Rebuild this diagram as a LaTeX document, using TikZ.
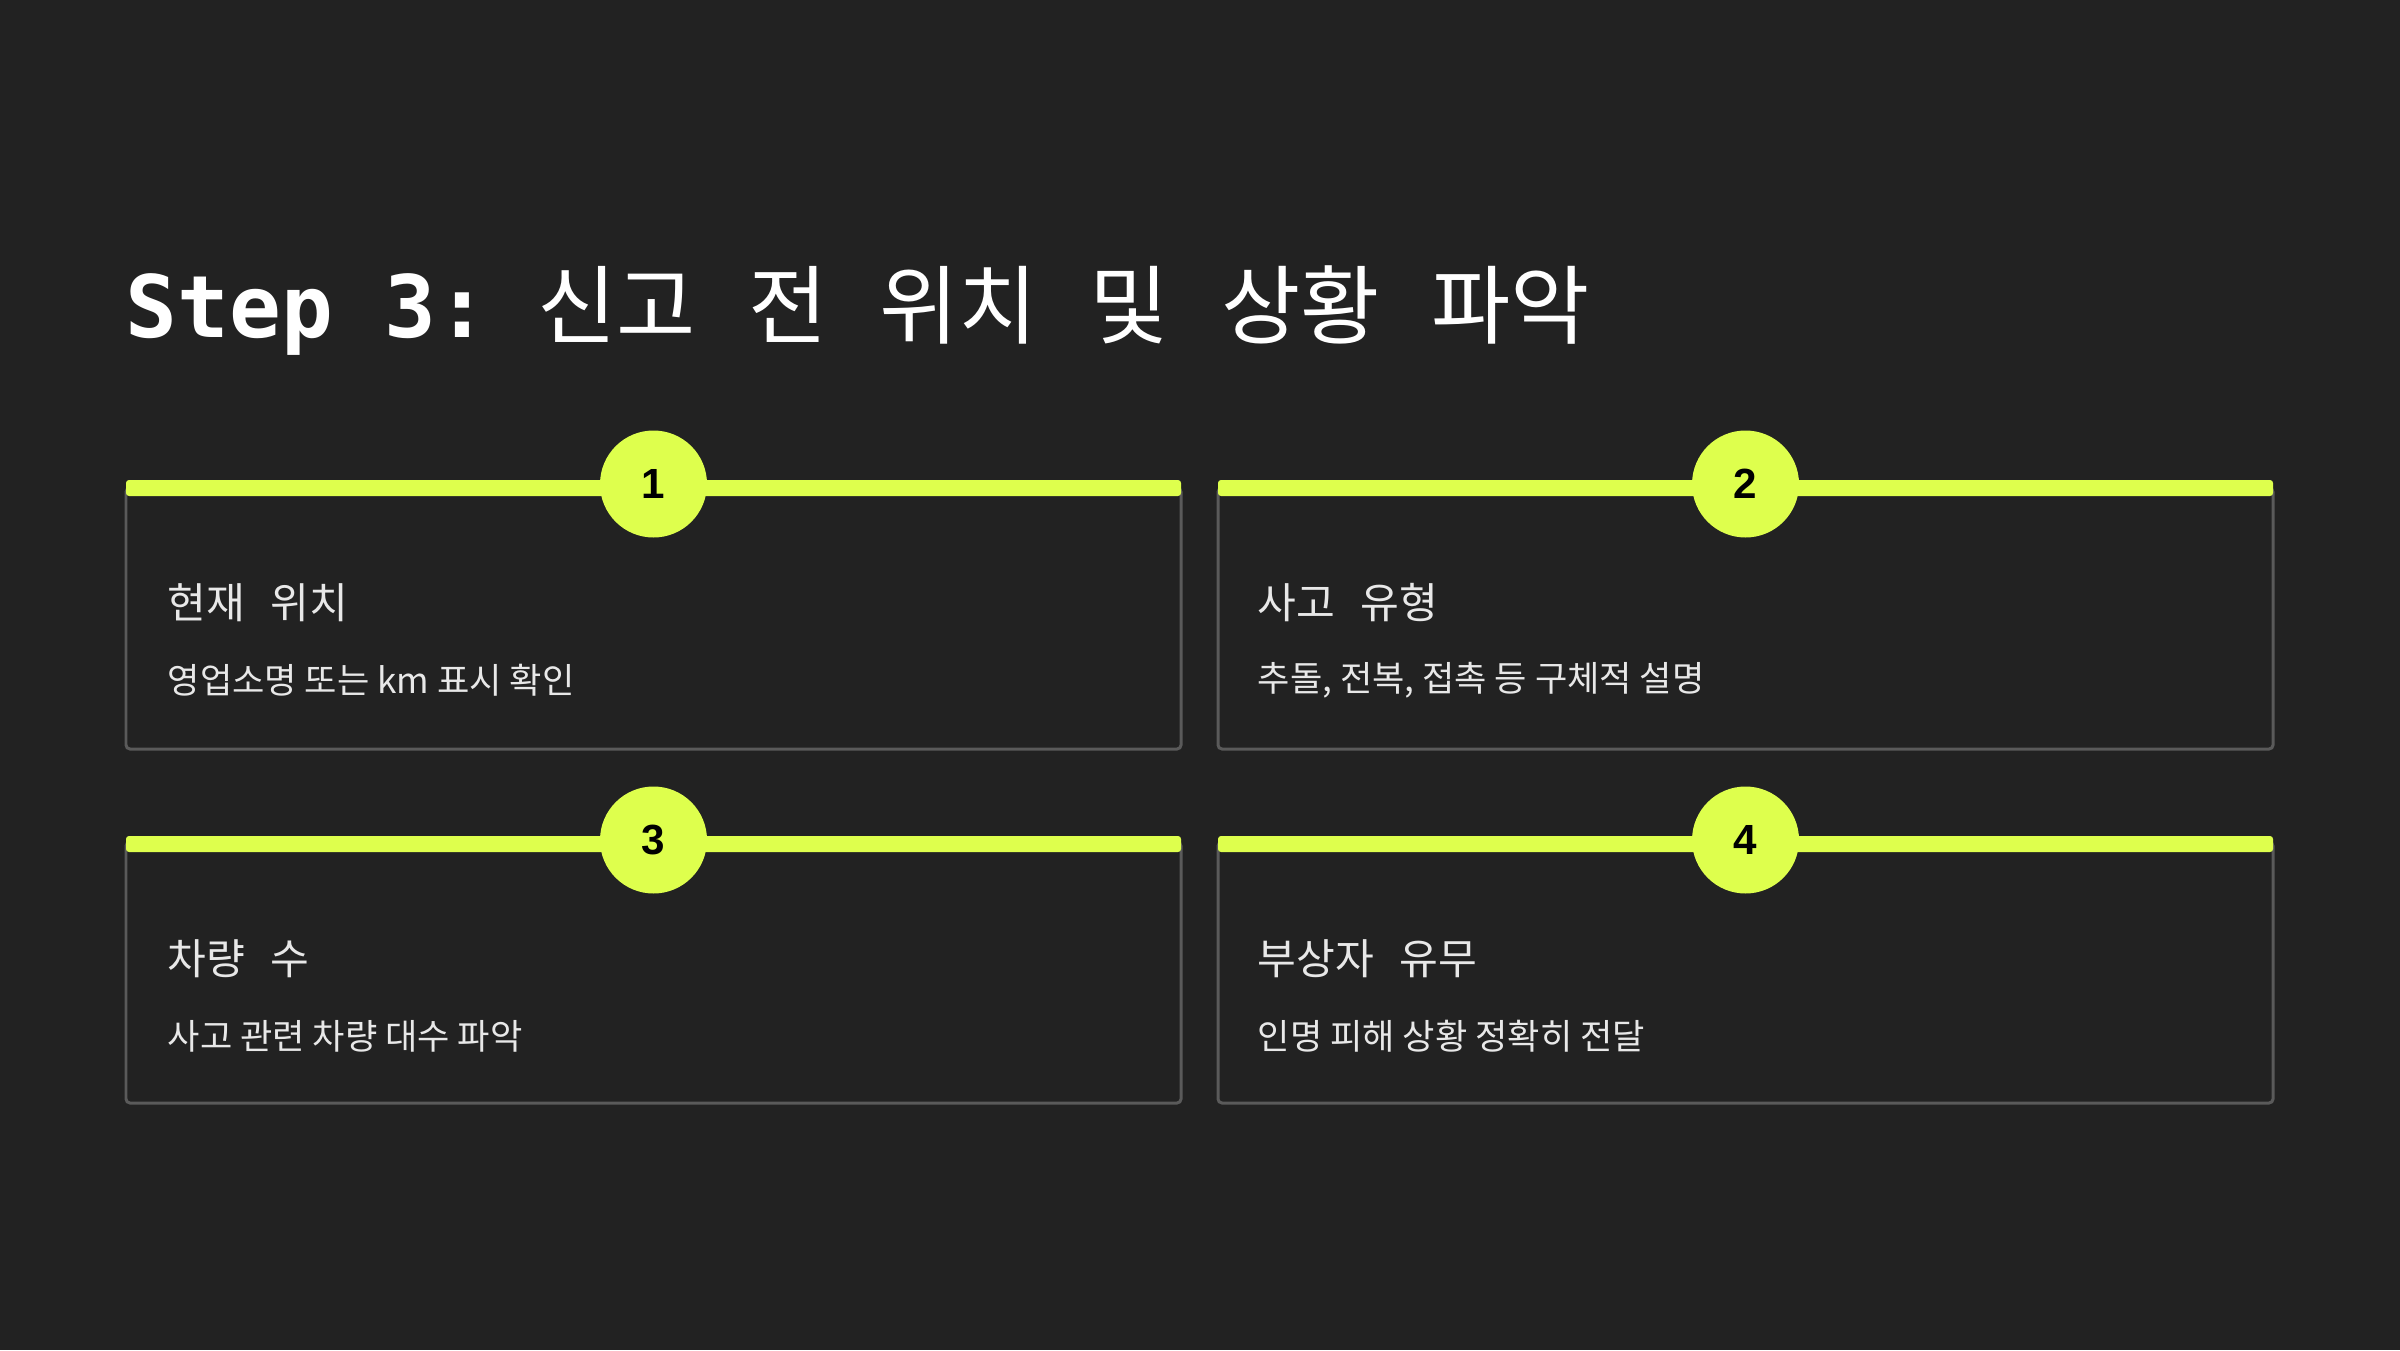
\documentclass[tikz,border=0pt]{standalone}
\usepackage{fontspec}
\setmainfont{Noto Sans CJK KR}
\newfontfamily\titlemono{DejaVu Sans Mono}
\newfontfamily\titlekr[WordSpace=1.8]{Noto Sans CJK KR}
\newfontfamily\headkr[WordSpace=2.7]{Noto Sans CJK KR}
\newfontfamily\numfont{Liberation Sans}
\usetikzlibrary{positioning}
\definecolor{canvas}{RGB}{34,34,34}
\definecolor{lime}{RGB}{222,255,77}
\definecolor{edge}{RGB}{90,90,90}
\definecolor{paper}{RGB}{232,232,232}

\begin{document}
\begin{tikzpicture}[
  x=1cm,y=1cm,
  card/.style={draw=edge, fill=canvas, line width=0.85pt,
               rounded corners=0.04cm, inner sep=0pt,
               minimum width=10.55cm, minimum height=2.61cm},
  bar/.style={fill=lime, rounded corners=0.03cm, inner sep=0pt,
              minimum width=10.55cm, minimum height=0.16cm},
  badge/.style={circle, fill=lime, minimum size=1.07cm, inner sep=0pt,
                text=black, font=\numfont\bfseries\fontsize{12}{14}\selectfont},
  heading/.style={anchor=west, inner sep=0pt, text=paper,
                  font=\headkr\fontsize{12}{14}\selectfont},
  detail/.style={anchor=west, inner sep=0pt, text=paper,
                 font=\fontsize{10}{12}\selectfont}
]

% Dark slide background fixes the page size.
\fill[canvas] (0,0) rectangle (24,13.5);
\useasboundingbox (0,0) rectangle (24,13.5);

% Title: mono Latin, Korean with wide word gaps.
\node[anchor=base west, inner sep=0pt, text=white,
      font=\fontsize{24.5}{29}\selectfont] (title) at (1.25,10.13)
  {{\titlemono\bfseries Step 3:}\hspace{0.49cm}{\titlekr 신고 전 위치 및 상황 파악}};

% Card 1: location.
\node[card] (card1) at (6.535,7.315) {};
\node[bar] (bar1) at (6.535,8.62) {};
\node[badge] (num1) at (6.535,8.66) {1};
\node[heading] (head1) at (1.67,7.47) {현재 위치};
\node[detail] (desc1) at ([yshift=-0.77cm]head1.west)
  {영업소명 또는 km 표시 확인};

% Card 2: accident type.
\node[card] (card2) at (17.455,7.315) {};
\node[bar] (bar2) at (17.455,8.62) {};
\node[badge] (num2) at (17.455,8.66) {2};
\node[heading] (head2) at (12.57,7.47) {사고 유형};
\node[detail] (desc2) at ([yshift=-0.77cm]head2.west)
  {추돌, 전복, 접촉 등 구체적 설명};

% Card 3: number of vehicles.
\node[card] (card3) at (6.535,3.775) {};
\node[bar] (bar3) at (6.535,5.06) {};
\node[badge] (num3) at (6.535,5.10) {3};
\node[heading] (head3) at (1.67,3.91) {차량 수};
\node[detail] (desc3) at ([yshift=-0.77cm]head3.west)
  {사고 관련 차량 대수 파악};

% Card 4: injured persons.
\node[card] (card4) at (17.455,3.775) {};
\node[bar] (bar4) at (17.455,5.06) {};
\node[badge] (num4) at (17.455,5.10) {4};
\node[heading] (head4) at (12.57,3.91) {부상자 유무};
\node[detail] (desc4) at ([yshift=-0.77cm]head4.west)
  {인명 피해 상황 정확히 전달};

\end{tikzpicture}
\end{document}
